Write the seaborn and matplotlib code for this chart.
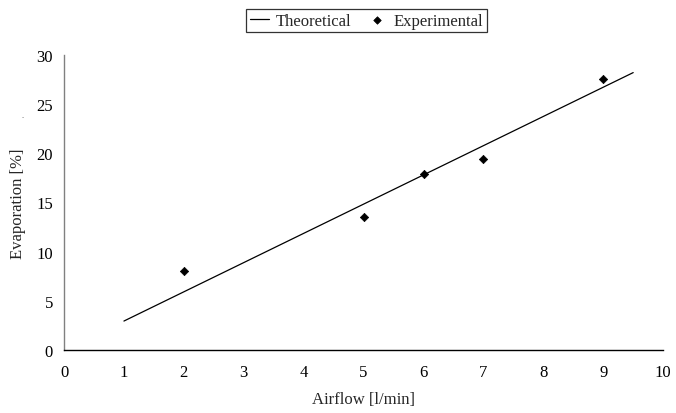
import matplotlib
matplotlib.use("Agg")
import matplotlib.pyplot as plt
import seaborn as sns
import pandas as pd

# Measured evaporation at several airflow rates
airflow_exp = [2, 5, 6, 7, 9]
evap_exp = [8.0, 13.5, 17.9, 19.4, 27.5]

# Theoretical model line
airflow_theo = [1.0, 9.5]
evap_theo = [2.95, 28.2]

x_ticks = list(range(0, 11))
y_ticks = list(range(0, 31, 5))

FS = 12

sns.set_style("white")
plt.rcParams["font.family"] = ["Liberation Serif", "DejaVu Serif"]
plt.rcParams["font.size"] = FS

fig = plt.figure(figsize=(6.76, 4.14), dpi=100)
ax = fig.add_axes([0.0947, 0.152, 0.8863, 0.713])

theo = pd.DataFrame({"Airflow": airflow_theo, "Evaporation": evap_theo})
exp = pd.DataFrame({"Airflow": airflow_exp, "Evaporation": evap_exp})

sns.lineplot(data=theo, x="Airflow", y="Evaporation", ax=ax, color="black",
             linewidth=0.9, label="Theoretical", legend=False)
sns.scatterplot(data=exp, x="Airflow", y="Evaporation", ax=ax, color="black",
                marker="D", s=18, edgecolor="black", linewidth=0.5,
                label="Experimental", legend=False)

ax.set_xlim(0, 10)
ax.set_ylim(0, 30)
ax.set_xticks(x_ticks)
ax.set_yticks(y_ticks)
ax.set_xlabel("Airflow [l/min]", fontsize=FS, labelpad=8)
ax.set_ylabel("Evaporation [%]", fontsize=FS, labelpad=7)

for side in ("top", "right"):
    ax.spines[side].set_visible(False)
ax.spines["bottom"].set_color("black")
ax.spines["bottom"].set_linewidth(1.0)
ax.spines["left"].set_color("#808080")
ax.spines["left"].set_linewidth(1.0)

ax.tick_params(axis="both", direction="out", length=4, width=0.9,
               colors="black", labelsize=FS)
ax.tick_params(axis="x", color="#808080", pad=6)
ax.tick_params(axis="y", color="#808080", pad=4)
ax.grid(False)

handles, labels = ax.get_legend_handles_labels()
leg = fig.legend(handles, labels, loc="center", bbox_to_anchor=(0.542, 0.948),
                 ncol=2, frameon=True, fancybox=False, edgecolor="black",
                 fontsize=FS, handlelength=1.15, handletextpad=0.42,
                 columnspacing=0.93, borderpad=0.22, borderaxespad=0,
                 markerscale=0.9)
leg.get_frame().set_linewidth(0.9)

fig.text(22.7 / 676, 1 - 116 / 414, ".", fontsize=6, color="#555555",
         ha="center", va="center")

fig.savefig("out.png", dpi=100)
